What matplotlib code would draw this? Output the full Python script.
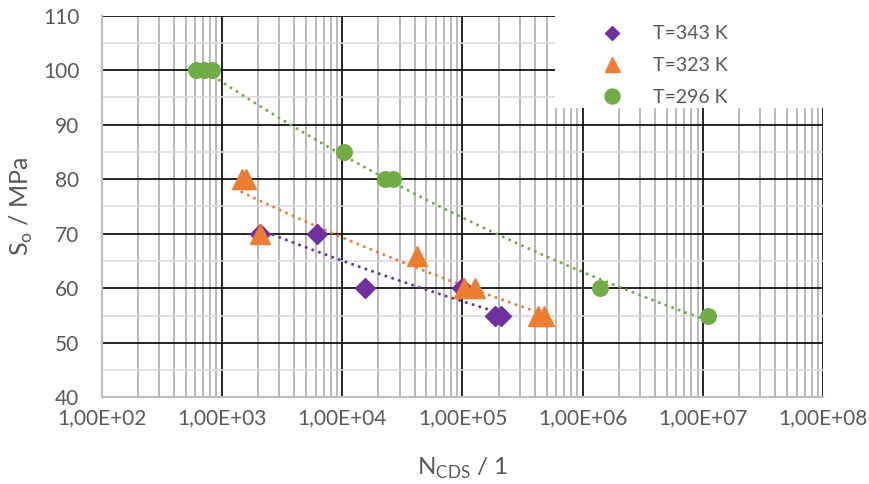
import numpy as np
import matplotlib
matplotlib.use("Agg")
import matplotlib.pyplot as plt
from matplotlib.ticker import FixedLocator, FuncFormatter, MultipleLocator
from matplotlib.patches import Rectangle

n_343 = [2070, 6210, 15600, 100000, 186000, 208000]
s_343 = [70, 70, 60, 60, 55, 55]
n_323 = [1460, 1575, 2070, 41500, 103500, 128000, 427000, 479000]
s_323 = [80, 80, 70, 66, 60, 60, 55, 55]
n_296 = [604, 705, 821, 10250, 22500, 26200, 1380000, 11100000]
s_296 = [100, 100, 100, 85, 80, 80, 60, 55]
labels = ["T=343 K", "T=323 K", "T=296 K"]
colors = ["#7030A0", "#ED7D31", "#70AD47"]

plt.rcParams["font.family"] = "Lato"
plt.rcParams["mathtext.fontset"] = "custom"
plt.rcParams["mathtext.rm"] = "Lato"
txt = "#595959"

fig = plt.figure(figsize=(8.7, 4.84), dpi=100)
ax = fig.add_axes([0.1169, 0.1791, 0.8294, 0.7885])
ax.set_xscale("log")
ax.set_xlim(1e2, 1e8)
ax.set_ylim(40, 110)

ax.xaxis.set_major_locator(FixedLocator([10.0**k for k in range(2, 9)]))
ax.xaxis.set_minor_locator(FixedLocator([m * 10.0**k for k in range(2, 8) for m in range(2, 10)]))
ax.xaxis.set_major_formatter(FuncFormatter(lambda v, p: f"{v:.2E}".replace(".", ",")))
ax.xaxis.set_minor_formatter(FuncFormatter(lambda v, p: ""))
ax.yaxis.set_major_locator(MultipleLocator(10))
ax.yaxis.set_minor_locator(MultipleLocator(5))

ax.set_axisbelow(True)
ax.grid(which="major", axis="both", color="black", lw=1.2)
ax.grid(which="minor", axis="x", color="#A6A6A6", lw=1.1)
ax.grid(which="minor", axis="y", color="#D9D9D9", lw=1.1)
ax.tick_params(which="both", length=0, labelsize=15, labelcolor=txt)
ax.tick_params(axis="y", pad=16)
ax.tick_params(axis="x", pad=7.5)
for side in ["top", "right"]:
    ax.spines[side].set_visible(False)
for side in ["left", "bottom"]:
    ax.spines[side].set_color("#BFBFBF")
    ax.spines[side].set_linewidth(1.6)

# white patch behind the legend
ax.add_patch(Rectangle((0.628, 0.758), 0.372, 0.242, transform=ax.transAxes,
                       facecolor="white", edgecolor="none", zorder=1))

series = [(n_343, s_343, "D", 9.7), (n_323, s_323, "^", 14.4), (n_296, s_296, "o", 11.2)]
for (n, s, mk, ms), lab, c in zip(series, labels, colors):
    n = np.array(n, float); s = np.array(s, float)
    # power trendline as in Excel
    b, a = np.polyfit(np.log(n), np.log(s), 1)
    xx = np.logspace(np.log10(n.min()), np.log10(n.max()), 200)
    ax.plot(xx, np.exp(a) * xx**b, color=c, lw=2.2, ls=(0, (0.01, 2.3)),
            dash_capstyle="round", zorder=2)
    ax.plot(n, s, ls="none", marker=mk, ms=ms, color=c, mec=c, label=lab, zorder=3)

leg = ax.legend(loc="upper left", bbox_to_anchor=(0.676, 1.0), frameon=False,
                fontsize=14, labelcolor=txt, handlelength=1.3, handletextpad=1.46,
                labelspacing=0.76, borderpad=0.5, borderaxespad=0)
for h, ms in zip(leg.legend_handles, [7.6, 10.8, 10.8]):
    h.set_markersize(ms)

ax.set_ylabel(r"S$_\mathrm{o}$ / MPa", fontsize=18, color=txt)
ax.set_xlabel(r"N$_\mathrm{CDS}$ / 1", fontsize=17.5, color=txt)
ax.yaxis.set_label_coords(-0.092, 0.5)
ax.xaxis.set_label_coords(0.5, -0.154)

fig.savefig("out.png", dpi=100)
